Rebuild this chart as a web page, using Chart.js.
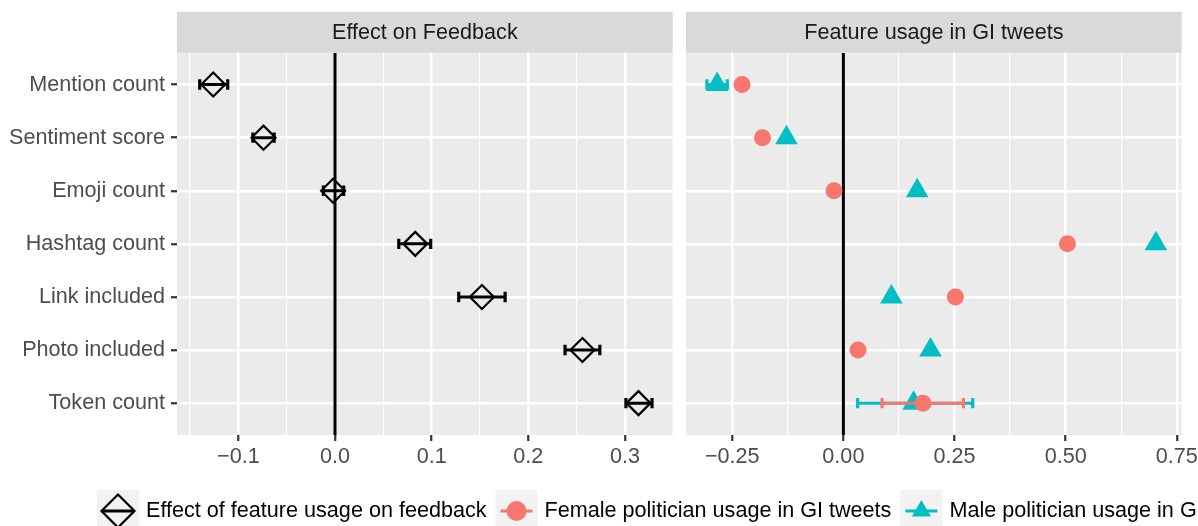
<!DOCTYPE html>
<html>
<head>
<meta charset="utf-8">
<script src="https://cdn.jsdelivr.net/npm/chart.js@4.4.1/dist/chart.umd.min.js"></script>
<style>
  html, body { margin: 0; padding: 0; background: #ffffff; }
  #wrap { position: relative; width: 1198px; height: 526px; overflow: hidden; }
  #wrap canvas { position: absolute; left: 0; top: 0; }
</style>
</head>
<body>
<div id="wrap">
  <canvas id="left-panel" width="1198" height="526"></canvas>
  <canvas id="right-panel" width="1198" height="526"></canvas>
</div>
<script>
// Données
const features = ["Mention count", "Sentiment score", "Emoji count", "Hashtag count",
                  "Link included", "Photo included", "Token count"];

const effectValue = [-0.126, -0.074, -0.002, 0.083, 0.152, 0.256, 0.314];
const effectLow   = [-0.140, -0.085, -0.012, 0.066, 0.128, 0.238, 0.301];
const effectHigh  = [-0.111, -0.063,  0.009, 0.099, 0.176, 0.274, 0.328];

const femaleUsage = [-0.228, -0.182, -0.021, 0.504, 0.252, 0.033, 0.179];
const femaleLow   = [null, null, null, null, null, null, 0.087];
const femaleHigh  = [null, null, null, null, null, null, 0.270];

const maleUsage = [-0.284, -0.128, 0.166, 0.703, 0.108, 0.196, 0.158];
const maleLow   = [-0.307, null, null, null, null, null, 0.032];
const maleHigh  = [-0.261, null, null, null, null, null, 0.291];

const leftMajorTicks = [-0.1, 0, 0.1, 0.2, 0.3];
const leftMinorTicks = [-0.15, -0.05, 0.05, 0.15, 0.25];
const leftTickLabels = ["\u22120.1", "0.0", "0.1", "0.2", "0.3"];

const rightMajorTicks = [-0.25, 0, 0.25, 0.5, 0.75];
const rightMinorTicks = [-0.125, 0.125, 0.375, 0.625];
const rightTickLabels = ["\u22120.25", "0.00", "0.25", "0.50", "0.75"];

const panelTitles = ["Effect on Feedback", "Feature usage in GI tweets"];
const legendLabels = ["Effect of feature usage on feedback",
                      "Female politician usage in GI tweets",
                      "Male politician usage in GI tweets"];

const RED = "#F8766D";
const TEAL = "#00BFC4";
const FONT = '"Liberation Sans", Arial, Helvetica, sans-serif';
const FONT_SIZE = 21.6;

// Petites fonctions utilitaires
function isMajor(value, majors) {
    return majors.some(m => Math.abs(m - value) < 1e-6);
}

function labelFor(value, majors, labels) {
    const i = majors.findIndex(m => Math.abs(m - value) < 1e-6);
    return i === -1 ? "" : labels[i];
}

function points(values) {
    return values.map((v, i) => ({ x: v, y: i }));
}

// segments d'erreur séparés par un point NaN pour couper la ligne
function errorBarPoints(low, high) {
    const pts = [];
    low.forEach((lo, i) => {
        if (lo === null) return;
        pts.push({ x: lo, y: i }, { x: high[i], y: i }, { x: NaN, y: NaN });
    });
    return pts;
}

function errorBarDataset(low, high, color) {
    return {
        data: errorBarPoints(low, high),
        showLine: true,
        borderColor: color,
        borderWidth: 3,
        borderCapStyle: "butt",
        pointStyle: "line",
        pointRotation: 90,
        pointRadius: 5.2,
        pointBorderColor: color,
        pointBorderWidth: 3.2,
    };
}

function zeroLineDataset() {
    return {
        data: [{ x: 0, y: -0.6 }, { x: 0, y: 6.6 }],
        showLine: true,
        borderColor: "#000000",
        borderWidth: 3,
        pointRadius: 0,
    };
}

// Fond du panneau + bandeau de titre (style facette)
const panelPlugin = {
    id: "panel",
    beforeDraw(chart, args, opts) {
        const { ctx, chartArea } = chart;
        ctx.save();
        ctx.fillStyle = "#EBEBEB";
        ctx.fillRect(chartArea.left, chartArea.top, chartArea.right - chartArea.left, chartArea.bottom - chartArea.top);
        ctx.fillStyle = "#D9D9D9";
        ctx.fillRect(chartArea.left, 11.7, chartArea.right - chartArea.left, chartArea.top - 11.7);
        ctx.fillStyle = "#1A1A1A";
        ctx.font = FONT_SIZE + "px " + FONT;
        ctx.textAlign = "center";
        ctx.textBaseline = "middle";
        ctx.fillText(opts.title, (chartArea.left + chartArea.right) / 2, (11.7 + chartArea.top) / 2 + 1);
        ctx.restore();
    },
};

// Légende du bas (dessinée sur toute la largeur, coupée à droite comme l'original)
const bottomLegendPlugin = {
    id: "bottomLegend",
    afterDraw(chart) {
        const ctx = chart.ctx;
        const keys = [
            { pointStyle: "rectRot", radius: 16.5, fill: "rgba(0,0,0,0)", color: "#000000", borderWidth: 2.2 },
            { pointStyle: "circle", radius: 10, fill: RED, color: RED, borderWidth: 0 },
            { pointStyle: "triangle", radius: 11, fill: TEAL, color: TEAL, borderWidth: 0 },
        ];
        const top = 490, size = 42, cy = top + size / 2;
        let x = 97;
        ctx.save();
        ctx.font = FONT_SIZE + "px " + FONT;
        keys.forEach((k, i) => {
            ctx.fillStyle = "#F2F2F2";
            ctx.fillRect(x, top, size, size);
            ctx.strokeStyle = k.color;
            ctx.lineWidth = 3;
            ctx.beginPath();
            ctx.moveTo(x + 5, cy);
            ctx.lineTo(x + size - 5, cy);
            ctx.stroke();
            ctx.fillStyle = k.fill;
            ctx.strokeStyle = k.color;
            ctx.lineWidth = k.borderWidth;
            Chart.helpers.drawPoint(ctx, {
                pointStyle: k.pointStyle, radius: k.radius, rotation: 0, borderWidth: k.borderWidth,
            }, x + size / 2, cy);
            ctx.fillStyle = "#000000";
            ctx.textAlign = "left";
            ctx.textBaseline = "middle";
            const tx = x + size + 7;
            ctx.fillText(legendLabels[i], tx, cy);
            x = tx + ctx.measureText(legendLabels[i]).width + 9;
        });
        ctx.restore();
    },
};

// Options communes aux deux panneaux
function panelOptions({ padding, xMin, xMax, majors, minors, labels, showY, title }) {
    const allTicks = majors.concat(minors).sort((a, b) => a - b);
    return {
        responsive: false,
        animation: false,
        events: [],
        layout: { padding: padding },
        plugins: {
            legend: { display: false },
            tooltip: { enabled: false },
            panel: { title: title },
        },
        scales: {
            x: {
                type: "linear",
                min: xMin,
                max: xMax,
                afterBuildTicks: s => { s.ticks = allTicks.map(v => ({ value: v })); },
                afterFit: s => { s.height = 40; s.paddingLeft = 0; s.paddingRight = 0; },
                ticks: {
                    autoSkip: false,
                    maxRotation: 0,
                    padding: 3,
                    color: "#4D4D4D",
                    font: { family: FONT, size: FONT_SIZE },
                    callback: v => labelFor(v, majors, labels),
                },
                grid: {
                    color: "#FFFFFF",
                    lineWidth: c => isMajor(c.tick.value, majors) ? 2.5 : 1.2,
                    tickColor: c => isMajor(c.tick.value, majors) ? "#333333" : "rgba(0,0,0,0)",
                    tickWidth: 2.2,
                    tickLength: 6,
                },
                border: { display: false },
            },
            y: {
                type: "linear",
                reverse: true,
                min: -0.6,
                max: 6.6,
                afterBuildTicks: s => { s.ticks = features.map((f, i) => ({ value: i })); },
                afterFit: s => { s.width = showY ? 177 : 0; s.paddingTop = 0; s.paddingBottom = 0; },
                ticks: {
                    display: showY,
                    padding: 6,
                    color: "#4D4D4D",
                    font: { family: FONT, size: FONT_SIZE },
                    callback: v => features[v],
                },
                grid: {
                    color: "#FFFFFF",
                    lineWidth: 2.5,
                    drawTicks: showY,
                    tickColor: "#333333",
                    tickWidth: 2.2,
                    tickLength: 6,
                },
                border: { display: false },
            },
        },
    };
}

// Panneau de gauche : effet sur le feedback
new Chart(document.getElementById("left-panel"), {
    type: "scatter",
    data: {
        datasets: [
            {
                data: points(effectValue),
                pointStyle: "rectRot",
                pointRadius: 12,
                pointBackgroundColor: "rgba(0,0,0,0)",
                pointBorderColor: "#000000",
                pointBorderWidth: 2.2,
            },
            errorBarDataset(effectLow, effectHigh, "#000000"),
            zeroLineDataset(),
        ],
    },
    options: panelOptions({
        padding: { left: 0, right: 525.3, top: 52.7, bottom: 51 },
        xMin: -0.1635, xMax: 0.3494,
        majors: leftMajorTicks, minors: leftMinorTicks, labels: leftTickLabels,
        showY: true, title: panelTitles[0],
    }),
    plugins: [panelPlugin, bottomLegendPlugin],
});

// Panneau de droite : usage dans les tweets GI
new Chart(document.getElementById("right-panel"), {
    type: "scatter",
    data: {
        datasets: [
            {
                data: points(femaleUsage),
                pointStyle: "circle",
                pointRadius: 8.5,
                pointBackgroundColor: RED,
                pointBorderWidth: 0,
            },
            errorBarDataset(femaleLow, femaleHigh, RED),
            {
                data: points(maleUsage),
                pointStyle: "triangle",
                pointRadius: 13,
                pointBackgroundColor: TEAL,
                pointBorderWidth: 0,
            },
            errorBarDataset(maleLow, maleHigh, TEAL),
            zeroLineDataset(),
        ],
    },
    options: panelOptions({
        padding: { left: 686, right: 16.3, top: 52.7, bottom: 51 },
        xMin: -0.354, xMax: 0.761,
        majors: rightMajorTicks, minors: rightMinorTicks, labels: rightTickLabels,
        showY: false, title: panelTitles[1],
    }),
    plugins: [panelPlugin],
});
</script>
</body>
</html>
